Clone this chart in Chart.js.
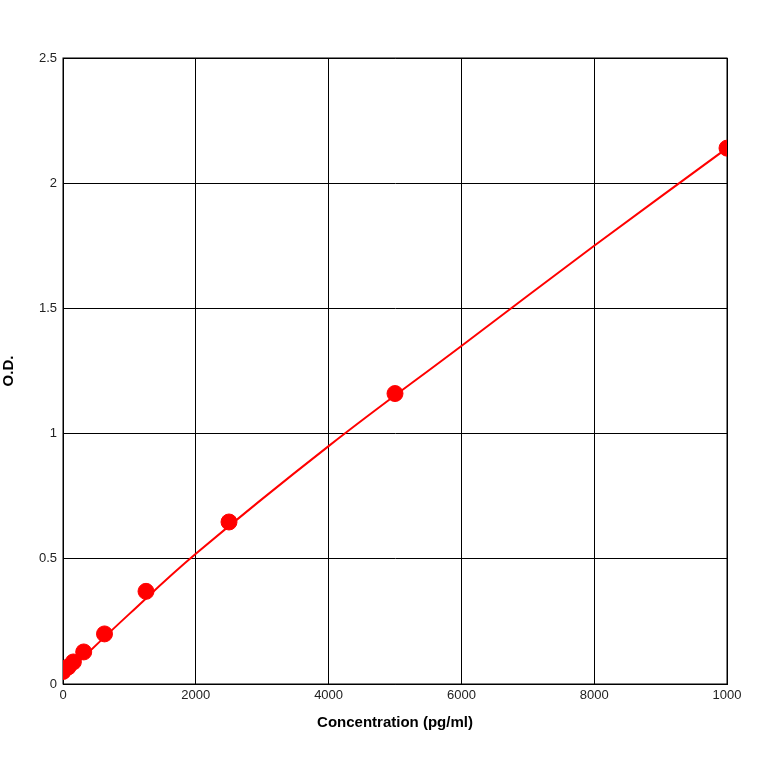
<!DOCTYPE html>
<html>
<head>
<script src="https://cdn.jsdelivr.net/npm/chart.js@4"></script>
<style>body{margin:0;background:#fff}#c{width:764px;height:764px}</style>
</head>
<body>
<div id="c"><canvas id="chart"></canvas></div>
<script>
// standard points
const concentration = [0, 78, 156, 312, 625, 1250, 2500, 5000, 10000];
const od = [0.05, 0.068, 0.088, 0.128, 0.2, 0.37, 0.647, 1.16, 2.14];
// fitted curve
const fitX = [0, 1000, 2000, 4000, 6000, 8000, 10000];
const fitY = [0.03, 0.28, 0.52, 0.95, 1.35, 1.75, 2.14];
const xTicks = [0, 2000, 4000, 6000, 8000, 10000];
const yTicks = [0, 0.5, 1, 1.5, 2, 2.5];

const font = { family: "Arial, 'Liberation Sans', sans-serif", size: 13 };

new Chart(document.getElementById("chart"), {
  type: "scatter",
  data: {
    datasets: [
      {
        type: "line",
        data: fitX.map((x, i) => ({ x, y: fitY[i] })),
        borderColor: "#ff0000",
        borderWidth: 2,
        pointRadius: 0,
        tension: 0.4,
      },
      {
        data: concentration.map((x, i) => ({ x, y: od[i] })),
        backgroundColor: "#ff0000",
        borderColor: "#ff0000",
        pointRadius: 8,
      },
    ],
  },
  options: {
    responsive: true,
    maintainAspectRatio: false,
    animation: false,
    layout: { padding: { left: 0, top: 58, right: 37, bottom: 32 } },
    plugins: { legend: { display: false }, tooltip: { enabled: false } },
    scales: {
      x: {
        min: 0, max: 10000,
        afterBuildTicks: (s) => { s.ticks = xTicks.map((v) => ({ value: v })); },
        afterFit: (s) => { s.height = 48; },
        ticks: { color: "#222", font, maxRotation: 0, padding: 4,
          callback: (v) => (v === 10000 ? "1000" : v) },
        grid: { color: "#000", tickLength: 0 },
        border: { color: "#000" },
        title: { display: true, text: "Concentration (pg/ml)", color: "#000",
          font: { ...font, size: 15, weight: "bold" }, padding: 0 },
      },
      y: {
        min: 0, max: 2.5,
        afterBuildTicks: (s) => { s.ticks = yTicks.map((v) => ({ value: v })); },
        afterFit: (s) => { s.width = 63; },
        ticks: { color: "#222", font, padding: 6, callback: (v) => String(v) },
        grid: { color: "#000", tickLength: 0 },
        border: { color: "#000" },
        title: { display: true, text: "O.D.", color: "#000",
          font: { ...font, size: 15, weight: "bold" }, padding: 0 },
      },
    },
  },
  plugins: [{
    id: "frame",
    beforeDatasetsDraw(chart) {
      const { ctx, chartArea: a } = chart;
      ctx.save();
      ctx.strokeStyle = "#000";
      ctx.lineWidth = 1;
      ctx.strokeRect(a.left, a.top, a.right - a.left, a.bottom - a.top);
      ctx.restore();
    },
  }],
});
</script>
<script>
// dashed interior grid lines
Chart.getChart("chart").options.scales.x.grid.borderDash = [3, 3];
</script>
</body>
</html>
